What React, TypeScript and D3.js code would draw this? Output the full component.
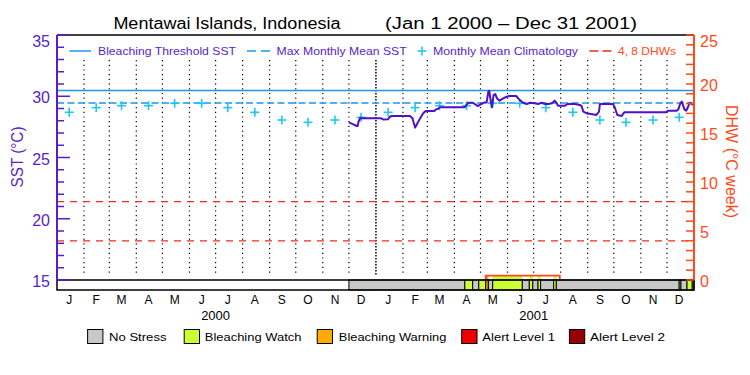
import React from "react";
import * as d3 from "d3";

// ---------- data ----------
const titleLeft = "Mentawai Islands, Indonesia";
const titleRight = "(Jan 1 2000 \u2013 Dec 31 2001)";
const monthLabels = ["J", "F", "M", "A", "M", "J", "J", "A", "S", "O", "N", "D"];
const years = [2000, 2001];
const sstTicks = [15, 20, 25, 30, 35];
const dhwTicks = [0, 5, 10, 15, 20, 25];

const mmm = 29.45;
const bleachingThreshold = 30.46;
const dhwLevels = [4, 8];

// monthly mean climatology (Jan..Dec)
const climValues = [28.69, 29.07, 29.23, 29.23, 29.42, 29.42, 29.07, 28.69, 28.06, 27.87, 28.06, 28.28];

const sstDates = [
  "2000-12-01", "2000-12-06", "2000-12-10", "2000-12-11", "2000-12-12", "2000-12-14", "2000-12-15",
  "2001-01-07", "2001-01-09", "2001-01-15", "2001-01-17", "2001-01-19",
  "2001-02-09", "2001-02-12", "2001-02-13", "2001-02-15", "2001-02-17", "2001-02-20", "2001-02-24", "2001-02-27",
  "2001-03-09", "2001-03-11", "2001-03-14", "2001-03-15",
  "2001-04-13", "2001-04-15", "2001-04-17", "2001-04-22", "2001-04-26", "2001-04-28",
  "2001-05-02", "2001-05-06", "2001-05-08", "2001-05-10", "2001-05-11", "2001-05-12", "2001-05-14", "2001-05-15",
  "2001-05-16", "2001-05-18", "2001-05-20", "2001-05-23", "2001-05-27", "2001-05-31",
  "2001-06-03", "2001-06-11", "2001-06-15", "2001-06-19", "2001-06-23", "2001-06-27",
  "2001-07-02", "2001-07-06", "2001-07-10", "2001-07-14", "2001-07-18", "2001-07-22", "2001-07-25", "2001-07-27", "2001-07-29",
  "2001-08-06", "2001-08-09", "2001-08-17", "2001-08-23", "2001-08-25", "2001-08-27", "2001-08-31",
  "2001-09-05", "2001-09-11", "2001-09-14", "2001-09-15", "2001-09-30",
  "2001-10-02", "2001-10-05", "2001-10-10", "2001-10-13", "2001-10-15",
  "2001-11-30", "2001-12-02", "2001-12-12", "2001-12-14", "2001-12-16", "2001-12-18", "2001-12-20",
  "2001-12-21", "2001-12-23", "2001-12-25", "2001-12-27", "2001-12-29", "2001-12-31",
];
const sstValues = [
  27.87, 27.71, 27.57, 27.57, 27.92, 28.25, 28.2,
  28.2, 28.11, 28.13, 28.33, 28.39,
  28.39, 28.2, 27.92, 27.44, 27.71, 28.11, 28.6, 28.8,
  28.8, 28.93, 29.0, 29.1,
  29.1, 29.29, 29.47, 29.47, 29.29, 29.2,
  29.37, 29.5, 29.5, 30.37, 30.45, 29.96, 29.1, 29.56,
  30.1, 30.18, 29.82, 29.64, 29.82, 29.96,
  30.02, 30.02, 29.69, 29.47, 29.37, 29.47,
  29.42, 29.37, 29.47, 29.37, 29.37, 29.42, 29.64, 29.47, 29.23,
  29.23, 29.37, 29.37, 29.29, 29.2, 28.74, 28.6,
  28.55, 28.47, 28.74, 29.37, 29.37,
  29.1, 28.47, 28.39, 28.69, 28.69,
  28.69, 28.82, 28.82, 28.93, 29.37, 29.56, 29.15,
  28.93, 28.82, 29.1, 29.47, 29.4, 29.29,
];

const dhwDates = ["2000-12-01", "2001-05-07", "2001-05-07", "2001-07-31", "2001-07-31", "2001-12-31"];
const dhwValues = [0, 0, 0.44, 0.44, 0, 0];

// stress level segments: 0 no stress, 1 watch, 2 warning, 3 alert 1, 4 alert 2
const stressStarts = [
  "2000-12-01", "2001-04-13", "2001-04-22", "2001-04-29", "2001-05-07", "2001-05-10", "2001-05-15",
  "2001-06-18", "2001-06-26", "2001-06-30", "2001-07-06", "2001-07-09", "2001-07-24", "2001-07-27",
  "2001-12-15", "2001-12-17", "2001-12-24", "2001-12-30",
];
const stressLevels = [0, 1, 0, 1, 2, 0, 1, 0, 1, 0, 1, 0, 1, 0, 1, 0, 1, 0];
const stressEnd = "2002-01-01";
const stressNames = ["No Stress", "Bleaching Watch", "Bleaching Warning", "Alert Level 1", "Alert Level 2"];

// ---------- styles ----------
const stressColors = ["#c8c8c8", "#ccff33", "#ffaa00", "#ee0000", "#960000"];
const PURPLE = "#5a1ec8";
const LINE_PURPLE = "#5010c8";
const ORANGE = "#ff4a1a";
const RED_DASH = "#f52a1a";
const BLUE = "#1e96f0";
const CYAN = "#1ec8f0";
const FONT = "'Liberation Sans', Arial, sans-serif";

const L = 57, R = 694, T = 35, Y15 = 280, BB = 290;

const parse = d3.timeParse("%Y-%m-%d");

export default function App() {
  const x = d3.scaleTime().domain([new Date(2000, 0, 1), new Date(2002, 0, 1)]).range([L, R]);
  const yS = d3.scaleLinear().domain([15, 35]).range([Y15, T]);
  const yD = d3.scaleLinear().domain([0, 25]).range([Y15, T]);

  const sst = sstDates.map((d, i) => ({ d: parse(d) as Date, v: sstValues[i] }));
  const dhw = dhwDates.map((d, i) => ({ d: parse(d) as Date, v: dhwValues[i] }));
  const sstLine = d3.line<{ d: Date; v: number }>().x((p) => x(p.d)).y((p) => yS(p.v));
  const dhwLine = d3.line<{ d: Date; v: number }>().x((p) => x(p.d)).y((p) => yD(p.v));

  const dhwAt = (t: Date) => {
    let val = 0;
    for (let i = 0; i < dhw.length - 1; i++) {
      if (t >= dhw[i].d && t < dhw[i + 1].d) val = Math.max(dhw[i].v, dhw[i + 1].v) === dhw[i].v ? dhw[i].v : dhw[i].v;
    }
    return val;
  };

  const segs = stressStarts.map((s, i) => {
    const a = parse(s) as Date;
    const b = parse(i + 1 < stressStarts.length ? stressStarts[i + 1] : stressEnd) as Date;
    return { a, b, level: stressLevels[i] };
  });

  const clim: { d: Date; v: number }[] = [];
  years.forEach((yr) => climValues.forEach((v, m) => clim.push({ d: new Date(yr, m, 15), v })));

  const monthStarts = d3.timeMonth.range(new Date(2000, 1, 1), new Date(2002, 0, 1));
  const monthMids: Date[] = [];
  years.forEach((yr) => monthLabels.forEach((_, m) => monthMids.push(new Date(yr, m, 15))));

  const sstMinor = d3.range(15, 36, 1);
  const dhwMinor = d3.range(0, 26, 1);

  const legendBoxX = [87.6, 184.2, 317.2, 461.7, 569.4];
  const legendTextX = [109, 204.8, 338.8, 482.3, 590];
  const legendTextW = [57.5, 96.6, 107.6, 72.7, 75];

  return (
    <svg width={750} height={375} style={{ position: "fixed", left: 0, top: 0, background: "#fff" }} fontFamily={FONT}>
      <rect x={0} y={0} width={750} height={375} fill="#fff" />
      <defs>
        <clipPath id="dhwclip">
          <rect x={L} y={T} width={R - L} height={Y15 - T - 1} />
        </clipPath>
      </defs>

      {/* title */}
      <text x={113.4} y={29} fontSize={16} textLength={227} lengthAdjust="spacingAndGlyphs" fill="#000">{titleLeft}</text>
      <text x={385} y={29} fontSize={16} textLength={252} lengthAdjust="spacingAndGlyphs" fill="#000">{titleRight}</text>

      {/* month grid lines */}
      {monthStarts.map((m, i) => {
        const isYear = m.getMonth() === 0;
        return (
          <line key={"g" + i} x1={x(m)} x2={x(m)} y1={T + 25} y2={Y15 - 5} stroke="#000" strokeWidth={isYear ? 1.5 : 1.2}
            strokeDasharray={isYear ? "1.5,1.5" : "1.2,3.5"} />
        );
      })}

      {/* DHW threshold lines */}
      {dhwLevels.map((lv) => (
        <line key={"dl" + lv} x1={L} x2={R} y1={yD(lv)} y2={yD(lv)} stroke={RED_DASH} strokeWidth={1.2} strokeDasharray="7,6" />
      ))}

      {/* MMM and threshold */}
      <line x1={L} x2={R} y1={yS(bleachingThreshold)} y2={yS(bleachingThreshold)} stroke={BLUE} strokeWidth={1.5} />
      <line x1={L} x2={R} y1={yS(mmm)} y2={yS(mmm)} stroke={BLUE} strokeWidth={1.5} strokeDasharray="7,3.5" />

      {/* climatology crosses */}
      {clim.map((c, i) => (
        <g key={"c" + i} stroke={CYAN} strokeWidth={1.6}>
          <line x1={x(c.d) - 4.5} x2={x(c.d) + 4.5} y1={yS(c.v)} y2={yS(c.v)} />
          <line x1={x(c.d)} x2={x(c.d)} y1={yS(c.v) - 4.5} y2={yS(c.v) + 4.5} />
        </g>
      ))}

      {/* SST line */}
      <path d={sstLine(sst) || ""} fill="none" stroke={LINE_PURPLE} strokeWidth={2} strokeLinejoin="round" />

      {/* fill under DHW coloured by stress */}
      {segs.filter((s) => s.level > 0).map((s, i) => {
        const mid = new Date((s.a.getTime() + s.b.getTime()) / 2);
        const v = dhwAt(mid);
        if (v <= 0) return null;
        return <rect key={"uf" + i} x={x(s.a)} y={yD(v)} width={x(s.b) - x(s.a)} height={Y15 - yD(v)} fill={stressColors[s.level]} />;
      })}

      {/* DHW line */}
      <path d={dhwLine(dhw) || ""} fill="none" stroke={ORANGE} strokeWidth={1.8} clipPath="url(#dhwclip)" />

      {/* stress bar */}
      <rect x={L} y={Y15} width={R - L} height={BB - Y15} fill="#fff" />
      {segs.map((s, i) => (
        <rect key={"s" + i} x={x(s.a)} y={Y15} width={x(s.b) - x(s.a)} height={BB - Y15}
          fill={stressColors[s.level]} stroke="#000" strokeWidth={1} />
      ))}
      <rect x={L} y={Y15} width={R - L} height={BB - Y15} fill="none" stroke="#000" strokeWidth={1.5} />

      {/* frame */}
      <line x1={L} x2={R} y1={T} y2={T} stroke="#000" strokeWidth={1.5} />

      {/* left axis */}
      <line x1={L} x2={L} y1={T} y2={Y15} stroke={PURPLE} strokeWidth={2} />
      {sstMinor.map((v) => (
        <line key={"lt" + v} x1={L} x2={L + (v % 5 === 0 ? 13 : 7)} y1={yS(v)} y2={yS(v)} stroke={PURPLE} strokeWidth={1.5} />
      ))}
      {sstTicks.map((v) => (
        <text key={"ll" + v} x={50} y={Math.max(yS(v) + 1.5, 41)} fontSize={16} fill={PURPLE} textAnchor="end" dominantBaseline="central">{v}</text>
      ))}
      <text transform="translate(17.5,157) rotate(-90)" fontSize={16} fill={PURPLE} textAnchor="middle" dominantBaseline="central"
        textLength={61} lengthAdjust="spacingAndGlyphs">SST (°C)</text>

      {/* right axis */}
      <line x1={R} x2={R} y1={T} y2={Y15} stroke={ORANGE} strokeWidth={2} />
      {dhwMinor.map((v) => (
        <line key={"rt" + v} x1={R} x2={R - 8} y1={yD(v)} y2={yD(v)} stroke={ORANGE} strokeWidth={1.5} />
      ))}
      {dhwTicks.map((v) => (
        <text key={"rl" + v} x={700} y={Math.max(yD(v) + 1, 41)} fontSize={16} fill={ORANGE} textAnchor="start" dominantBaseline="central">{v}</text>
      ))}
      <text transform="translate(731,161.5) rotate(90)" fontSize={16} fill={ORANGE} textAnchor="middle" dominantBaseline="central"
        textLength={113} lengthAdjust="spacingAndGlyphs">DHW (°C week)</text>

      {/* month and year labels */}
      {monthMids.map((m, i) => (
        <text key={"m" + i} x={x(m)} y={303.5} fontSize={12} textAnchor="middle" fill="#000">{monthLabels[m.getMonth()]}</text>
      ))}
      {years.map((yr) => (
        <text key={"y" + yr} x={x(new Date(yr, 6, 1))} y={320} fontSize={13} textAnchor="middle" fill="#000">{yr}</text>
      ))}

      {/* top legend */}
      <line x1={69.4} x2={91} y1={51} y2={51} stroke={BLUE} strokeWidth={1.5} />
      <text x={98} y={55} fontSize={11.5} fill={PURPLE} textLength={138} lengthAdjust="spacingAndGlyphs">Bleaching Threshold SST</text>
      <line x1={247} x2={270} y1={51} y2={51} stroke={BLUE} strokeWidth={1.5} strokeDasharray="9,5" />
      <text x={276.6} y={55} fontSize={11.5} fill={PURPLE} textLength={130} lengthAdjust="spacingAndGlyphs">Max Monthly Mean SST</text>
      <g stroke={CYAN} strokeWidth={1.6}>
        <line x1={417.5} x2={426.5} y1={51} y2={51} />
        <line x1={422} x2={422} y1={46.5} y2={55.5} />
      </g>
      <text x={433} y={55} fontSize={11.5} fill={PURPLE} textLength={145} lengthAdjust="spacingAndGlyphs">Monthly Mean Climatology</text>
      <line x1={589.5} x2={611.5} y1={51} y2={51} stroke={RED_DASH} strokeWidth={1.5} strokeDasharray="9,4" />
      <text x={618} y={55} fontSize={11.5} fill={ORANGE} textLength={58} lengthAdjust="spacingAndGlyphs">4, 8 DHWs</text>

      {/* bottom legend */}
      {stressNames.map((n, i) => (
        <g key={"bl" + i}>
          <rect x={legendBoxX[i]} y={329.5} width={15.3} height={14} fill={stressColors[i]} stroke="#000" strokeWidth={1} />
          <text x={legendTextX[i]} y={340.5} fontSize={11.5} fill="#000" textLength={legendTextW[i]} lengthAdjust="spacingAndGlyphs">{n}</text>
        </g>
      ))}
    </svg>
  );
}
